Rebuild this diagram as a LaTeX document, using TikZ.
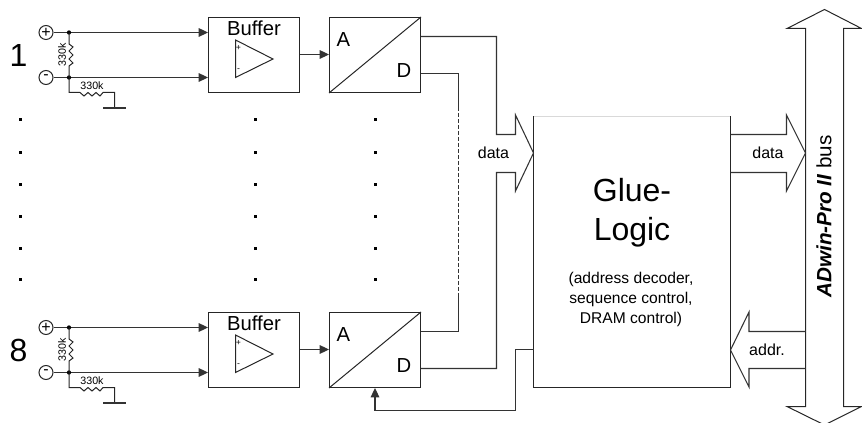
\documentclass[tikz,border=0pt]{standalone}
\usepackage{fontspec}
\setmainfont{Liberation Sans}
\usetikzlibrary{arrows.meta}
\tikzset{
  wire/.style={line width=0.8pt,black!80},
  sig/.style={wire,-{Triangle[length=7pt,width=6.5pt]}},
  outl/.style={line width=0.75pt,black!85},
  blockbox/.style={draw=black!85,line width=0.75pt,inner sep=0pt,minimum width=68.25pt,minimum height=56.25pt},
  big/.style={font=\fontsize{24}{28}\selectfont},
  mid/.style={font=\fontsize{15.2}{18}\selectfont},
  lab/.style={font=\fontsize{12}{14}\selectfont},
  small/.style={font=\fontsize{11.7}{15}\selectfont,align=center},
  tiny/.style={font=\fontsize{8}{9}\selectfont,inner sep=0pt},
}
\begin{document}
\begin{tikzpicture}[x=0.75pt,y=-0.75pt]
\useasboundingbox (0,0) rectangle (862,423);
% the two input channels
\foreach \ch/\yo in {1/0,8/295}{
\begin{scope}[shift={(0,\yo)}]
  \node[big] (num\ch) at (18.5,55) {\ch};
  \node[blockbox] (buf\ch) at (254,55) {};
  \node[mid] (buftxt\ch) at (254,28.5) {Buffer};
  \node[blockbox] (ad\ch) at (375,55) {};
  \draw[outl] (ad\ch.south west) -- (ad\ch.north east);
  \node[mid] (a\ch) at (343.5,40) {A};
  \node[mid] (d\ch) at (404,70.5) {D};
  \coordinate (hi\ch) at (420.5,36.5);
  \coordinate (lo\ch) at (420.5,73.5);
  \coordinate (mid\ch) at (299.5,54.5);
  % op amp
  \draw[outl] (235.5,40) -- (273,59) -- (235.5,77.5) -- cycle;
  \node[font=\fontsize{6.5}{7}\selectfont,inner sep=0pt] (opp\ch) at (238.5,48) {+};
  \node[font=\fontsize{6.5}{7}\selectfont,inner sep=0pt] (opm\ch) at (238.5,70) {-};
  % inputs
  \node[draw=black!85,line width=0.75pt,circle,minimum size=10.5pt,inner sep=0pt,lab] (plus\ch) at (46,32.5) {+};
  \node[draw=black!85,line width=0.75pt,circle,minimum size=10.5pt,inner sep=0pt,lab] (minus\ch) at (46,77.5) {-};
  \coordinate (jp\ch) at (69,32.5);
  \coordinate (jm\ch) at (69,77.5);
  \draw[sig] (plus\ch) -- (plus\ch -| buf\ch.west);
  \draw[sig] (minus\ch) -- (minus\ch -| buf\ch.west);
  \fill (jp\ch) circle(1.6pt);
  \fill (jm\ch) circle(1.6pt);
  \draw[sig] (mid\ch) -- (mid\ch -| ad\ch.west);
  % resistors
  \draw[outl] (jp\ch) -- (69,44) -- (73,47) -- (69,51) -- (73,55) -- (69,59) -- (73,63) -- (69,66) -- (jm\ch);
  \node[tiny,rotate=90] (rv\ch) at (62,55) {330k};
  \coordinate (gnd\ch) at (114.5,108);
  \draw[outl] (jm\ch) |- (80,92.5) -- (84,96) -- (88,92.5) -- (92,96) -- (96,92.5) -- (100,96) -- (103,92.5) -| (gnd\ch);
  \draw[wire] (103,108) -- (126,108);
  \node[tiny] (rh\ch) at (92,86) {330k};
\end{scope}
}
% dots between the channels
\foreach \x in {20,255,375}
  \foreach \y in {120,153,185,217,249,280}
    \fill (\x-1.5,\y-1.5) rectangle ++(3,3);
% glue logic
\node[inner sep=0pt,minimum width=147.75pt,minimum height=203.25pt] (glue) at (632,252) {};
\draw[black!15,line width=0.5pt] (glue.north west) -- (glue.north east);
\draw[outl] (glue.north east) -- (glue.south east) -- (glue.south west) -- (glue.north west);
\node[big,align=center,font=\fontsize{24}{29}\selectfont] (gluetxt) at (632,213) {Glue-\\Logic};
\node[small] (gluesub) at (631,299.5) {(address decoder,\\sequence control,\\DRAM control)};
% data into the glue logic
\coordinate (datain) at (533.5,153);
\draw[wire] (hi1) -| (496.5,134.5) -- (515.5,134.5) -- (515.5,115) -- (datain) -- (515.5,191) -- (515.5,172.5) -- (496.5,172.5) |- (lo8);
\draw[wire] (lo1) -| (458.5,107);
\draw[wire,dash pattern=on 3pt off 1.5pt] (458.5,107) -- (458.5,297);
\draw[wire] (458.5,297) |- (hi8);
\node[lab] (datal) at (493.5,153) {data};
% control back to the converter
\coordinate (ctl) at (533.5,349.5);
\draw[sig] (ctl) -| (515.5,410.5) -| (ad8.south);
% bus
\draw[outl] (824.5,9.5) -- (861.5,28.5) -- (843.5,28.5) -- (843.5,406.5) -- (861.5,406.5) -- (824.5,425) -- (787,406.5) -- (805.5,406.5) -- (805.5,28.5) -- (787,28.5) -- cycle;
\node[rotate=90,font=\fontsize{15.5}{18}\selectfont,inner sep=0pt] (buslabel) at (824,216.5) {\textbf{\textit{ADwin-Pro II}} bus};
% data and addr. between glue logic and bus
\draw[wire] (730.5,134.5) -- (786.5,134.5) -- (786.5,115) -- (805.5,153) -- (786.5,191) -- (786.5,172.5) -- (730.5,172.5);
\node[lab] (dataout) at (768,153) {data};
\draw[wire] (805.5,331.5) -- (749,331.5) -- (749,312) -- (730.5,350) -- (749,387) -- (749,368.5) -- (805.5,368.5);
\node[lab] (addr) at (767,350) {addr.};
\end{tikzpicture}
\end{document}
